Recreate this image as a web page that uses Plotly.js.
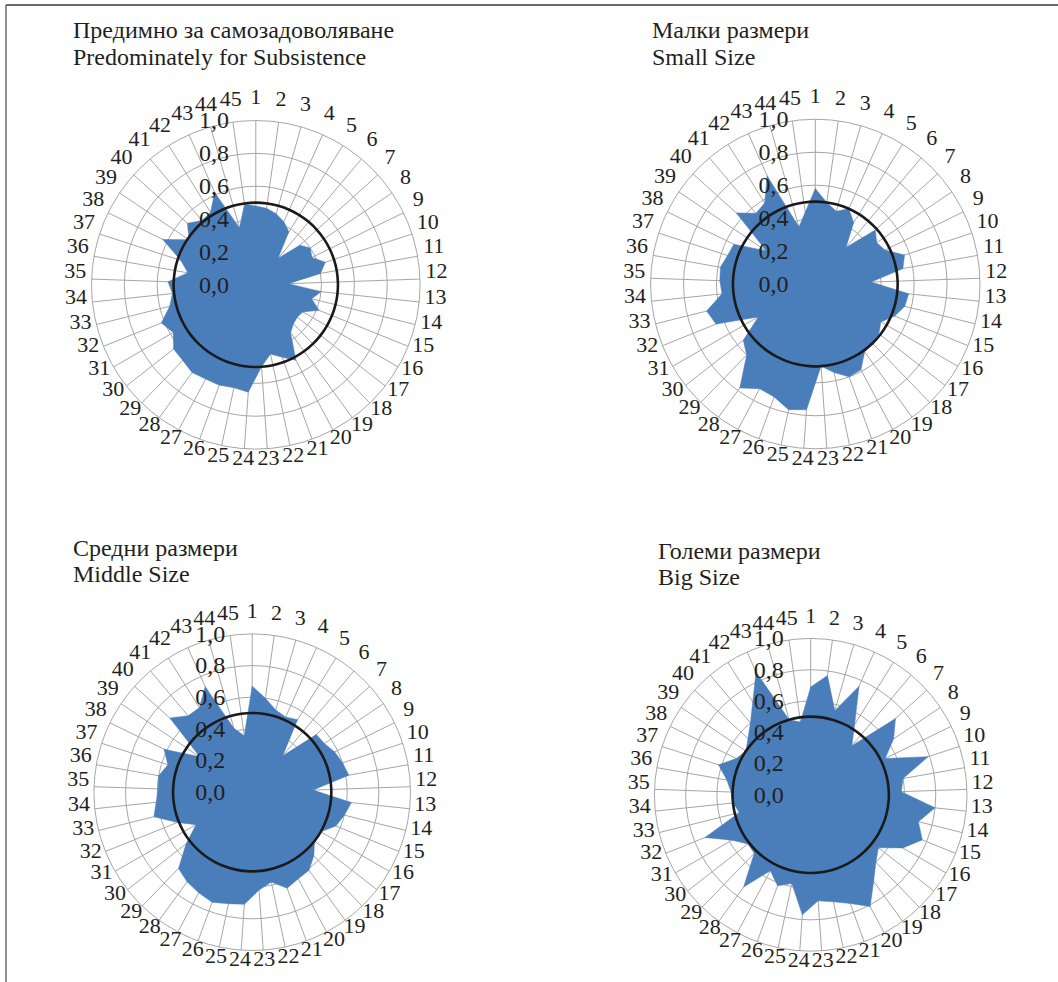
<!DOCTYPE html>
<html>
<head>
<meta charset="utf-8">
<script src="https://cdn.plot.ly/plotly-3.0.1.min.js"></script>
<style>
html,body{margin:0;padding:0;background:#fff;}
#chart{width:1058px;height:982px;}
</style>
</head>
<body>
<div id="chart"></div>
<script>
// 45 category labels
const categories = Array.from({length: 45}, (_, i) => String(i + 1));

// Series values
const subsistence = [0.48,0.47,0.45,0.42,0.38,0.21,0.36,0.40,0.38,0.445,0.40,0.20,0.40,0.35,0.415,0.33,0.32,0.33,0.36,0.52,0.47,0.43,0.50,0.655,0.64,0.65,0.65,0.66,0.64,0.635,0.58,0.62,0.54,0.51,0.535,0.42,0.48,0.63,0.49,0.56,0.51,0.52,0.615,0.36,0.495];
const smallSize   = [0.58,0.50,0.46,0.50,0.44,0.29,0.49,0.45,0.47,0.57,0.54,0.34,0.57,0.56,0.52,0.46,0.49,0.50,0.51,0.59,0.60,0.55,0.50,0.765,0.78,0.73,0.72,0.78,0.60,0.555,0.40,0.65,0.68,0.57,0.58,0.585,0.56,0.55,0.36,0.645,0.56,0.58,0.72,0.36,0.44];
const middleSize  = [0.67,0.60,0.54,0.52,0.54,0.30,0.545,0.55,0.58,0.60,0.62,0.385,0.63,0.60,0.57,0.50,0.50,0.56,0.61,0.62,0.645,0.58,0.62,0.71,0.72,0.74,0.72,0.70,0.67,0.53,0.41,0.51,0.64,0.61,0.595,0.60,0.56,0.62,0.40,0.70,0.63,0.63,0.73,0.42,0.36];
const bigSize     = [0.69,0.77,0.56,0.76,0.53,0.41,0.73,0.64,0.53,0.79,0.60,0.58,0.80,0.71,0.77,0.68,0.55,0.60,0.685,0.81,0.74,0.70,0.68,0.77,0.58,0.62,0.55,0.73,0.52,0.51,0.58,0.73,0.47,0.50,0.51,0.545,0.62,0.53,0.50,0.54,0.60,0.70,0.86,0.50,0.47];
const threshold = 0.5;

const titlesBg = ["Предимно за самозадоволяване", "Малки размери", "Средни размери", "Големи размери"];
const titlesEn = ["Predominately for Subsistence", "Small Size", "Middle Size", "Big Size"];
const radialTicks = [0, 0.2, 0.4, 0.6, 0.8, 1.0];

const seriesList = [subsistence, smallSize, middleSize, bigSize];

const W = 1058, H = 982;
const FONT = 'Liberation Serif, Times New Roman, DejaVu Serif, serif';
const TXT = '#231f20';
const GRID = '#a6a6a6';
const BLUE = '#4a7ebb';

// layout geometry (pixels): centre and outer radius of each radar
const geom = [
  {cx:255.8, cy:284.8, R:164.3},
  {cx:815.3, cy:284.0, R:164.7},
  {cx:252.2, cy:792.2, R:158.3},
  {cx:810.7, cy:794.8, R:156.3}
];
const titlePos = [
  {x:71, y1:30, y2:57}, {x:650, y1:30, y2:57}, {x:71, y1:548, y2:574}, {x:656, y1:551, y2:577}
];
const LABEL_R = 1.10;       // category label ring (data units)
const LABEL_SCALE = 1.2;    // overlay radial range
const LABEL_LIFT = 5.5/164; // label ring lifted relative to R

function dom(cx, cy, R) {
  return {x:[(cx - R)/W, (cx + R)/W], y:[(H - cy - R)/H, (H - cy + R)/H]};
}

const close = a => a.concat([a[0]]);
const thetaClosed = close(categories);

const traces = [];
const layout = {
  width: W, height: H,
  margin: {l:0, r:0, t:0, b:0},
  paper_bgcolor: '#ffffff',
  showlegend: false,
  separators: ', ',
  font: {family: FONT, color: TXT, size: 21},
  annotations: [],
  shapes: [
    {type:'line', xref:'paper', yref:'paper', x0:6/W, x1:1, y0:1-5/H, y1:1-5/H, line:{color:'#3a3a3a', width:1.5}},
    {type:'line', xref:'paper', yref:'paper', x0:6/W, x1:6/W, y0:0, y1:1-5/H, line:{color:'#6a6a6a', width:1.5}}
  ]
};

seriesList.forEach((vals, i) => {
  const g = geom[i];
  const pid = i === 0 ? 'polar' : 'polar' + (i + 1);
  const lid = 'polar' + (i + 5);
  traces.push({
    type: 'scatterpolar', subplot: pid,
    theta: thetaClosed, r: close(vals),
    mode: 'lines', fill: 'toself',
    fillcolor: BLUE, line: {color: BLUE, width: 0.5},
    hoverinfo: 'skip'
  });
  traces.push({
    type: 'scatterpolar', subplot: pid,
    theta: thetaClosed, r: close(categories.map(() => threshold)),
    mode: 'lines', line: {color: '#1a1a1a', width: 2.6, shape: 'spline'},
    hoverinfo: 'skip'
  });
  // category labels on a transparent overlay subplot
  traces.push({
    type: 'scatterpolar', subplot: lid,
    theta: categories, r: categories.map(() => LABEL_R),
    mode: 'text', text: categories, textposition: 'middle center',
    textfont: {family: FONT, size: 22, color: TXT},
    cliponaxis: false, hoverinfo: 'skip'
  });
  layout[pid] = {
    domain: dom(g.cx, g.cy, g.R),
    bgcolor: '#ffffff',
    angularaxis: {
      type: 'category', categoryorder: 'array', categoryarray: categories,
      direction: 'clockwise', rotation: 90,
      tickmode: 'array', tickvals: categories,
      showticklabels: false, ticks: '',
      showgrid: true, gridcolor: GRID, gridwidth: 1,
      showline: true, linecolor: GRID, linewidth: 1
    },
    radialaxis: {
      range: [0, 1], angle: 90, side: 'counterclockwise', tickangle: 90,
      tickmode: 'array', tickvals: radialTicks, tickformat: '.1f',
      showline: false, showgrid: true, gridcolor: GRID, gridwidth: 1,
      ticks: 'outside', ticklen: 18, tickcolor: 'rgba(0,0,0,0)',
      tickfont: {family: FONT, size: 24, color: TXT}
    }
  };
  layout[lid] = {
    domain: dom(g.cx, g.cy - LABEL_LIFT * g.R, g.R * LABEL_SCALE),
    bgcolor: 'rgba(0,0,0,0)',
    angularaxis: {
      type: 'category', categoryorder: 'array', categoryarray: categories,
      direction: 'clockwise', rotation: 90,
      showticklabels: false, ticks: '', showgrid: false, showline: false
    },
    radialaxis: {
      range: [0, LABEL_SCALE], visible: false, showgrid: false, showline: false,
      showticklabels: false, ticks: ''
    }
  };
  const tp = titlePos[i];
  [[titlesBg[i], tp.y1], [titlesEn[i], tp.y2]].forEach(([txt, y]) => {
    layout.annotations.push({
      xref: 'paper', yref: 'paper',
      x: tp.x / W, y: 1 - y / H,
      xanchor: 'left', yanchor: 'middle', align: 'left', showarrow: false,
      text: txt,
      font: {family: FONT, size: 24, color: TXT}
    });
  });
});

Plotly.newPlot('chart', traces, layout, {staticPlot: true});
</script>
</body>
</html>
